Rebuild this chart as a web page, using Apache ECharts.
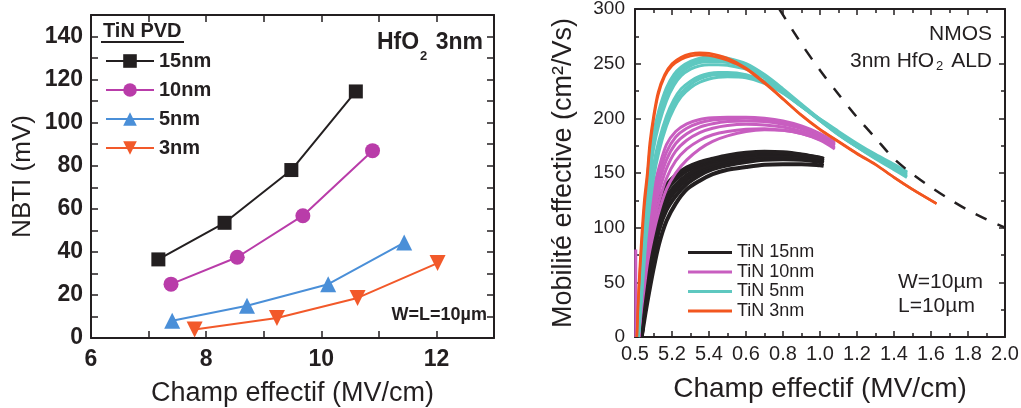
<!DOCTYPE html>
<html><head><meta charset="utf-8">
<script src="https://cdn.jsdelivr.net/npm/echarts@6/dist/echarts.min.js"></script>
<style>html,body{margin:0;padding:0;background:#fff}#c{width:1021px;height:408px}</style>
</head><body><div id="c"></div>
<script>
// ---------- Left chart: NBTI vs field ----------
const leftX15 = [7.17, 8.32, 9.48, 10.6];
const leftY15 = [36.5, 53.5, 78, 114.5];
const leftX10 = [7.39, 8.54, 9.68, 10.89];
const leftY10 = [25, 37.5, 56.8, 87];
const leftX5 = [7.41, 8.71, 10.12, 11.44];
const leftY5 = [8, 15, 25, 44.3];
const leftX3 = [7.8, 9.23, 10.63, 12.02];
const leftY3 = [4, 9.3, 18.6, 34.8];
const leftNames = ['15nm', '10nm', '5nm', '3nm'];

// ---------- Right chart: mobility curves ----------
const rightXLabels = ['0.5','5.2','5.4','0.6','0.8','1.0','1.2','1.4','1.6','1.8','2.0'];
const rightNames = ['TiN 15nm', 'TiN 10nm', 'TiN 5nm', 'TiN 3nm'];

const blackX = [0.036,0.05,0.07,0.1,0.13,0.17,0.22,0.28,0.35,0.42,0.5,0.6,0.7,0.8,0.9,1.0,1.02];
const black1 = [0,40,75,105,125,139,148,155,160,163,166,168.5,169.5,169,167,164,163];
const black1b = [0,37,71,101,122,136,146,153.5,158.5,162,165,167.5,168.5,168.3,166.5,163.8,162.8];
const black2 = [0,35,68,98,119,134,144,152,157.5,161,164,166.5,167.5,167.5,166,163.5,162.5];
const black3 = [0,30,60,90,112,128,139,148,154.5,158.5,162,164.5,166,166,165,162.5,161.5];
const black3b = [0,28,56,86,108,125,136.5,146,152.5,157,160.5,163.5,165,165.2,164.2,162,161];
const black4 = [0,26,53,82,105,122,134,144,151,156,159.5,162.5,164,164.5,163.5,161.5,160.5];
const black5 = [0,22,46,74,98,116,129,140,148,153.5,157,160,162,162.5,162,160,159];
const black6 = [0,15,35,62,85,106,122,135,143,149,153,155.5,157.5,158,158,157,156.5];

const magX = [0.02,0.035,0.05,0.07,0.1,0.13,0.17,0.22,0.28,0.35,0.42,0.5,0.6,0.7,0.8,0.9,1.0,1.08];
const mag1 = [0,50,80,110,135,155,176,188,195,199,200.5,201,201,200,197.5,193,186,178];
const mag2 = [0,45,74,103,128,148,169,183,191,196,198.5,199.5,200,199,196.5,192,185,177];
const mag3 = [0,40,67,95,120,141,162,177,186,192,195,197,197.5,197,194.5,190.5,184,176];
const mag4 = [0,36,60,87,112,133,154,170,180,187,191,193.5,194.5,194,192,188,182,175];
const mag5 = [0,30,52,78,103,124,145,161,172,180,185,188,190,190.5,189,186,180.5,173.5];
const mag6 = [0,25,45,70,95,115,135,150,162,172,179,184,188,189.5,189,186,180,172];
const magEdgeX = [0.004, 0.004];
const magEdgeY = [0, 80];

const tealX = [0.018,0.03,0.045,0.06,0.08,0.1,0.13,0.17,0.21,0.25,0.3,0.35,0.4,0.45,0.5,0.6,0.7,0.8,0.9,1.0,1.1,1.2,1.3,1.4,1.47];
const teal1 = [0,50,95,130,162,186,208,228,240,247,252,255,256,256,255,250,240,227,213,199,186,174,163,153,146];
const teal2 = [0,46,90,125,157,182,204,224,237,245,250,253,254,254,253,248.5,239,226,212,198.5,185.5,174,163.5,154,147];
const teal3 = [0,42,85,120,152,177,200,220,234,242,248,251,252,252,251,247,238,225.5,211.5,198,185,174,164,154.5,148];
const teal4 = [0,38,80,114,146,172,195,216,230,239,245,248,249,249,248.5,245,237,225,211,198,185.5,174.5,164.5,155,149];
const teal5 = [0,32,70,102,132,157,180,202,217,227,234,238.5,241,242,242,240,234,224,211,198.5,186,175.5,165.5,156,150];
const teal6 = [0,28,64,96,126,151,175,197,213,223,231,236,239,240,240,238.5,233,223.5,211,199,187,176,166,157,150.5];
const teal7 = [0,24,58,90,120,145,170,193,209,220,228,233,236,237.5,238,237,232,223,211,199.5,188,177,167,158,151];

const orangeX = [0.01,0.02,0.035,0.05,0.066,0.08,0.1,0.125,0.16,0.2,0.25,0.3,0.35,0.4,0.5,0.6,0.7,0.8,0.9,1.0,1.1,1.2,1.3,1.4,1.5,1.63];
const orange1 = [0,45,90,125,150,178,202,224,240,250,256,259,260,259.5,255,246,233,218,203,190,179,168,158,146,135,122];
const orange2 = [0,40,82,118,145,172,198,221,238,248,254,257,258,257.5,253,245,232,217.5,202.5,189.5,178.5,167.5,157.5,146,135,122];

const dashX = [0.78,0.9,1.0,1.1,1.2,1.3,1.4,1.5,1.6,1.7,1.8,1.9,2.0];
const dashY = [300,268,244,222,201,182,163,149,137,126,116,107.5,100];

// ---------- styling ----------
const F = "'Liberation Sans', Arial, Helvetica, sans-serif";
const INK = '#231f20';
const zip = (xs, ys) => xs.map((x, i) => [x, ys[i]]);

const chart = echarts.init(document.getElementById('c'), null, {renderer: 'canvas'});

function axisCommon(extra) {
  return Object.assign({
    type: 'value',
    axisLine: {show: true, onZero: false, lineStyle: {color: INK, width: 2}},
    axisTick: {show: true, inside: true, lineStyle: {color: INK, width: 1.5}},
    splitLine: {show: false},
    minorSplitLine: {show: false}
  }, extra);
}

const series = [];
const leftSpec = [
  [leftNames[0], leftX15, leftY15, INK, 'rect', 14],
  [leftNames[1], leftX10, leftY10, '#b93ca9', 'circle', 15],
  [leftNames[2], leftX5, leftY5, '#4a8fd8', 'triangle', 16],
  [leftNames[3], leftX3, leftY3, '#f2592a', 'path://M0,0 L10,0 L5,9 Z', 16]
];
leftSpec.forEach(s => series.push({
  type: 'line', name: s[0], xAxisIndex: 0, yAxisIndex: 0,
  data: zip(s[1], s[2]), symbol: s[4], symbolSize: s[5],
  lineStyle: {color: s[3], width: 2}, itemStyle: {color: s[3]},
  z: 3
}));

function addCurves(name, xs, list, color, width, z) {
  list.forEach(ys => series.push({
    type: 'line', name: name, xAxisIndex: 2, yAxisIndex: 2,
    data: zip(xs, ys), symbol: 'none', smooth: 0.3,
    lineStyle: {color: color, width: width}, itemStyle: {color: color}, z: z
  }));
}
addCurves(rightNames[0], blackX, [black6, black5, black4, black3b, black3, black2, black1b, black1], INK, 4, 2);
addCurves(rightNames[1], magX, [mag6, mag5, mag4, mag3, mag2, mag1], '#c85ec0', 3, 3);
series.push({type: 'line', name: rightNames[1], xAxisIndex: 2, yAxisIndex: 2,
  data: zip(magEdgeX, magEdgeY), symbol: 'none',
  lineStyle: {color: '#c85ec0', width: 3}, itemStyle: {color: '#c85ec0'}, z: 3});
addCurves(rightNames[2], tealX, [teal7, teal6, teal5, teal4, teal3, teal2, teal1], '#5ec8c0', 3, 4);
addCurves(rightNames[3], orangeX, [orange2, orange1], '#f2561f', 2.5, 5);
series.push({type: 'line', name: 'universal', xAxisIndex: 2, yAxisIndex: 2,
  data: zip(dashX, dashY), symbol: 'none', smooth: 0.3,
  lineStyle: {color: INK, width: 2.5, type: [12, 12]}, z: 6});

const option = {
  animation: false,
  backgroundColor: '#fff',
  textStyle: {fontFamily: F, color: INK},
  grid: [
    {left: 91, top: 15, width: 403, height: 323, outerBoundsMode: 'none', containLabel: false},
    {left: 635, top: 9, width: 370, height: 328, outerBoundsMode: 'none', containLabel: false}
  ],
  xAxis: [
    axisCommon({gridIndex: 0, position: 'bottom', min: 6, max: 13, interval: 1,
      axisTick: {show: true, inside: true, length: 7, lineStyle: {color: INK, width: 1.5}},
      axisLabel: {show: true, margin: 10, fontSize: 23, fontWeight: 'bold', color: INK, fontFamily: F,
        formatter: v => (v % 2 === 0 && v < 13) ? String(v) : ''},
      name: 'Champ effectif (MV/cm)', nameLocation: 'middle', nameGap: 42,
      nameTextStyle: {fontSize: 27, color: INK, fontFamily: F}}),
    axisCommon({gridIndex: 0, position: 'top', min: 6, max: 13, interval: 1,
      axisTick: {show: true, inside: true, length: 7, lineStyle: {color: INK, width: 1.5}},
      axisLabel: {show: false}}),
    axisCommon({gridIndex: 1, position: 'bottom', min: 0, max: 2, interval: 0.2,
      axisTick: {show: true, inside: true, length: 6, lineStyle: {color: INK, width: 1.5}},
      minorTick: {show: true, splitNumber: 2, length: 4, lineStyle: {color: INK, width: 1.5}},
      axisLabel: {show: true, margin: 7, fontSize: 20, color: INK, fontFamily: F,
        formatter: v => rightXLabels[Math.round(v / 0.2)] || ''},
      name: 'Champ effectif (MV/cm)', nameLocation: 'middle', nameGap: 38,
      nameTextStyle: {fontSize: 28, color: INK, fontFamily: F}}),
    axisCommon({gridIndex: 1, position: 'top', min: 0, max: 2, interval: 0.2,
      axisTick: {show: true, inside: true, length: 6, lineStyle: {color: INK, width: 1.5}},
      minorTick: {show: true, splitNumber: 2, length: 4, lineStyle: {color: INK, width: 1.5}},
      axisLabel: {show: false}})
  ],
  yAxis: [
    axisCommon({gridIndex: 0, position: 'left', min: 0, max: 150, interval: 10,
      axisTick: {show: true, inside: true, length: 7, lineStyle: {color: INK, width: 1.5}},
      axisLabel: {show: true, margin: 8, fontSize: 23, fontWeight: 'bold', color: INK, fontFamily: F,
        formatter: v => (v % 20 === 0 && v <= 140) ? String(v) : ''},
      name: 'NBTI (mV)', nameLocation: 'middle', nameGap: 55,
      nameTextStyle: {fontSize: 26, color: INK, fontFamily: F}}),
    axisCommon({gridIndex: 0, position: 'right', min: 0, max: 150, interval: 10,
      axisTick: {show: true, inside: true, length: 7, lineStyle: {color: INK, width: 1.5}},
      axisLabel: {show: false}}),
    axisCommon({gridIndex: 1, position: 'left', min: 0, max: 300, interval: 50,
      axisTick: {show: true, inside: true, length: 6, lineStyle: {color: INK, width: 1.5}},
      minorTick: {show: true, splitNumber: 2, length: 4, lineStyle: {color: INK, width: 1.5}},
      axisLabel: {show: true, margin: 10, fontSize: 19, color: INK, fontFamily: F},
      name: 'Mobilité effective (cm²/Vs)', nameLocation: 'middle', nameGap: 58,
      nameTextStyle: {fontSize: 27, color: INK, fontFamily: F}}),
    axisCommon({gridIndex: 1, position: 'right', min: 0, max: 300, interval: 50,
      axisTick: {show: true, inside: true, length: 6, lineStyle: {color: INK, width: 1.5}},
      minorTick: {show: true, splitNumber: 2, length: 4, lineStyle: {color: INK, width: 1.5}},
      axisLabel: {show: false}})
  ],
  legend: [
    {data: leftNames, orient: 'vertical', left: 100, top: 46, itemWidth: 48, itemHeight: 17, itemGap: 9,
      selectedMode: false, textStyle: {fontSize: 20, fontWeight: 'bold', color: INK, fontFamily: F}},
    {data: rightNames, orient: 'vertical', left: 683, top: 238.5, icon: 'rect', itemWidth: 44, itemHeight: 3,
      itemGap: 1.5, selectedMode: false, textStyle: {fontSize: 18, lineHeight: 18, color: INK, fontFamily: F}}
  ],
  graphic: [
    {type: 'text', left: 103, top: 21, style: {text: 'TiN PVD', font: 'bold 20px ' + F, fill: INK}},
    {type: 'line', shape: {x1: 101, y1: 42, x2: 184, y2: 42}, style: {stroke: INK, lineWidth: 2}},
    {type: 'text', left: 377, top: 31, style: {text: 'HfO', font: 'bold 23px ' + F, fill: INK}},
    {type: 'text', left: 420, top: 50, style: {text: '2', font: 'bold 13px ' + F, fill: INK}},
    {type: 'text', right: 538, top: 31, style: {text: '3nm', font: 'bold 23px ' + F, fill: INK}},
    {type: 'text', right: 534, top: 306, style: {text: 'W=L=10µm', font: 'bold 18px ' + F, fill: INK}},
    {type: 'text', right: 29, top: 24, style: {text: 'NMOS', font: '21px ' + F, fill: INK}},
    {type: 'text', left: 850, top: 51, style: {text: '3nm HfO', font: '21px ' + F, fill: INK}},
    {type: 'text', left: 936, top: 60, style: {text: '2', font: '13px ' + F, fill: INK}},
    {type: 'text', right: 29, top: 51, style: {text: 'ALD', font: '21px ' + F, fill: INK}},
    {type: 'text', left: 898, top: 272, style: {text: 'W=10µm', font: '21px ' + F, fill: INK}},
    {type: 'text', left: 898, top: 296, style: {text: 'L=10µm', font: '21px ' + F, fill: INK}}
  ],
  series: series
};
chart.setOption(option);
</script></body></html>
